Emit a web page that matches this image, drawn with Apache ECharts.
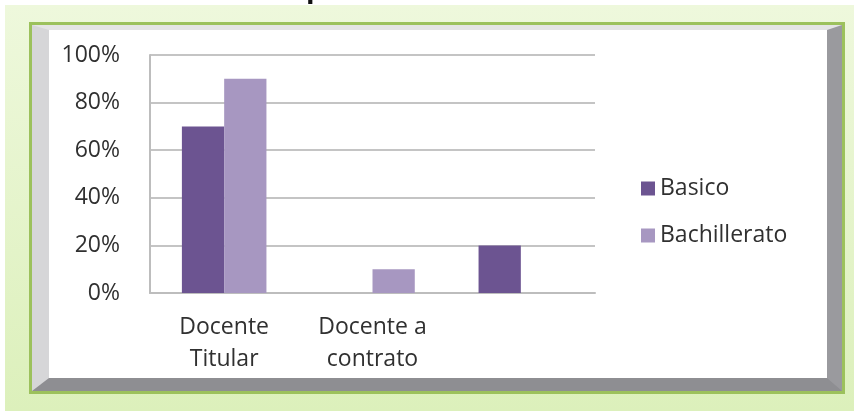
<!DOCTYPE html>
<html>
<head>
<meta charset="utf-8">
<script src="https://cdn.jsdelivr.net/npm/echarts@6/dist/echarts.min.js"></script>
<style>
  html, body { margin: 0; padding: 0; background: #fff; }
  #wrap { position: relative; width: 854px; height: 411px; overflow: hidden; }
  .glow {
    position: absolute; left: 5px; top: 5px; right: 0; bottom: 0;
    background: linear-gradient(#eef8dc, #dcf0bb);
  }
  .frame {
    position: absolute; left: 29px; top: 22px; width: 816px; height: 372px;
    border: 3px solid #9cc15c; box-sizing: border-box;
  }
  .bevel {
    position: absolute; left: 32px; top: 25px; width: 810px; height: 366px;
    box-sizing: border-box; background: #fff;
    border-top: 5px solid #e4e4e4;
    border-left: 17px solid #d6d6d8;
    border-right: 15px solid #9a9a9e;
    border-bottom: 13px solid #8e8e92;
  }
  #chart { position: absolute; left: 0; top: 0; width: 854px; height: 411px; }
</style>
</head>
<body>
<div id="wrap">
  <div class="glow"></div>
  <div class="frame"></div>
  <div class="bevel"></div>
  <div id="chart"></div>
</div>
<script>
// datos
var categorias = ['Docente\nTitular', 'Docente a\ncontrato', ''];
var basico = [70, 0, 20];
var bachillerato = [90, 10, 0];
var ticksY = [0, 20, 40, 60, 80, 100];

var fuente = 'Open Sans';
var gris = '#303030';

var myChart = echarts.init(document.getElementById('chart'));
var option = {
  backgroundColor: 'transparent',
  animation: false,
  textStyle: { fontFamily: fuente },
  graphic: [{
    type: 'text',
    left: 306,
    top: -25,
    style: { text: 'p', fontSize: 28, fontWeight: 'bold', fill: '#111', fontFamily: fuente }
  }],
  legend: {
    orient: 'vertical',
    left: 636,
    top: 172,
    icon: 'rect',
    itemWidth: 14,
    itemHeight: 14,
    itemGap: 24,
    textStyle: { fontSize: 23, color: gris, fontFamily: fuente },
    data: ['Basico', 'Bachillerato']
  },
  grid: { left: 150, right: 259, top: 55, bottom: 118 },
  xAxis: {
    type: 'category',
    data: categorias,
    axisTick: { show: false },
    axisLine: { lineStyle: { color: '#bdbdbd', width: 2 } },
    axisLabel: { fontSize: 23, color: gris, lineHeight: 32, margin: 18, interval: 0 }
  },
  yAxis: {
    type: 'value',
    min: ticksY[0],
    max: ticksY[ticksY.length - 1],
    interval: 20,
    axisLine: { show: true, lineStyle: { color: '#bdbdbd', width: 2 } },
    axisTick: { show: false },
    axisLabel: { fontSize: 23, color: gris, margin: 30, formatter: '{value}%' },
    splitLine: { lineStyle: { color: '#c4c4c4', width: 2 } }
  },
  series: [
    {
      name: 'Basico',
      type: 'bar',
      data: basico,
      barGap: '0%',
      barCategoryGap: '43%',
      itemStyle: { color: '#6c5491' }
    },
    {
      name: 'Bachillerato',
      type: 'bar',
      data: bachillerato,
      itemStyle: { color: '#a797c1' }
    }
  ]
};
myChart.setOption(option);
</script>
</body>
</html>
